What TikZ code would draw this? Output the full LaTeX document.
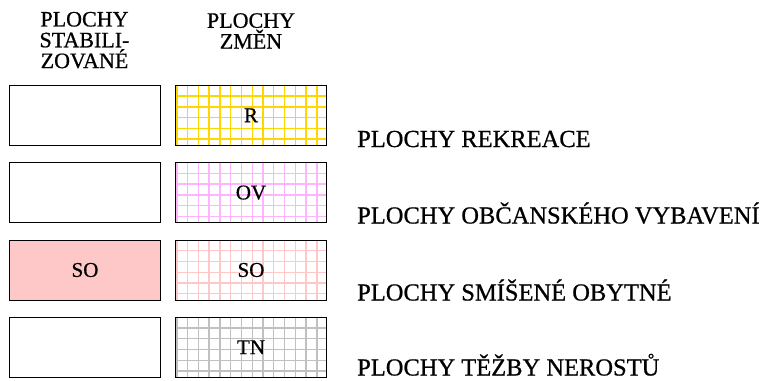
\documentclass[tikz,border=0pt]{standalone}
\usepackage{fontspec}
\setmainfont{Liberation Serif}[FakeBold=0.7]
\usepackage{tikz}
\usetikzlibrary{positioning}
\definecolor{rekreace}{HTML}{FFD700}
\definecolor{obcanske}{HTML}{FFB4FF}
\definecolor{smisene}{HTML}{FFC8C8}
\definecolor{tezba}{HTML}{C0C0C0}

\tikzset{
  plocha/.style={draw=black,line width=0.8pt,minimum width=151.5pt,minimum height=60pt,inner sep=0pt,font=\fontsize{21}{21}\selectfont},
  mrizka/.style={plocha,path picture={
      \foreach \k in {0,...,13}
        \draw[#1,line width=1.4pt] ([xshift=1.6pt+\k*10.77pt]path picture bounding box.north west) -- ++(0,-60);
      \foreach \k in {0,...,5}
        \draw[#1,line width=1.4pt] ([yshift=-\k*10.75pt]path picture bounding box.north west) -- ++(152,0);
    }},
  nadpis/.style={align=center,anchor=north,inner sep=0pt,font=\fontsize{22}{20.8}\selectfont},
  popis/.style={anchor=base west,inner sep=0pt,font=\fontsize{24.5}{24.5}\selectfont}
}

\begin{document}
\begin{tikzpicture}[x=1pt,y=1pt]
              \useasboundingbox (0,0) rectangle (765,-380);
              % hlavicky sloupcu
              \node[nadpis] (hlStab) at (84.5,-11.7) {PLOCHY\\STABILI-\\ZOVANÉ};
              \node[nadpis] (hlZmen) at (251,-13) {PLOCHY\\ZMĚN};
              % plochy stabilizovane a plochy zmen
              \node[plocha] (stab1) at (85,-115.3) {};
              \node[mrizka=rekreace] (zm1) at (251,-115.3) {R};
              \node[plocha] (stab2) at (85,-192.6) {};
              \node[mrizka=obcanske] (zm2) at (251,-192.6) {OV};
              \node[plocha,fill=smisene] (stab3) at (85,-270) {SO};
              \node[mrizka=smisene] (zm3) at (251,-270) {SO};
              \node[plocha] (stab4) at (85,-347.2) {};
              \node[mrizka=tezba] (zm4) at (251,-347.2) {TN};
              % popisy
              \node[popis] (popis1) at (357,-147) {PLOCHY REKREACE};
              \node[popis] (popis2) at (357,-223.5) {PLOCHY OBČANSKÉHO VYBAVENÍ};
              \node[popis] (popis3) at (357,-300.5) {PLOCHY SMÍŠENÉ OBYTNÉ};
              \node[popis] (popis4) at (357,-375.5) {PLOCHY TĚŽBY NEROSTŮ};
          \end{tikzpicture}
\end{document}
